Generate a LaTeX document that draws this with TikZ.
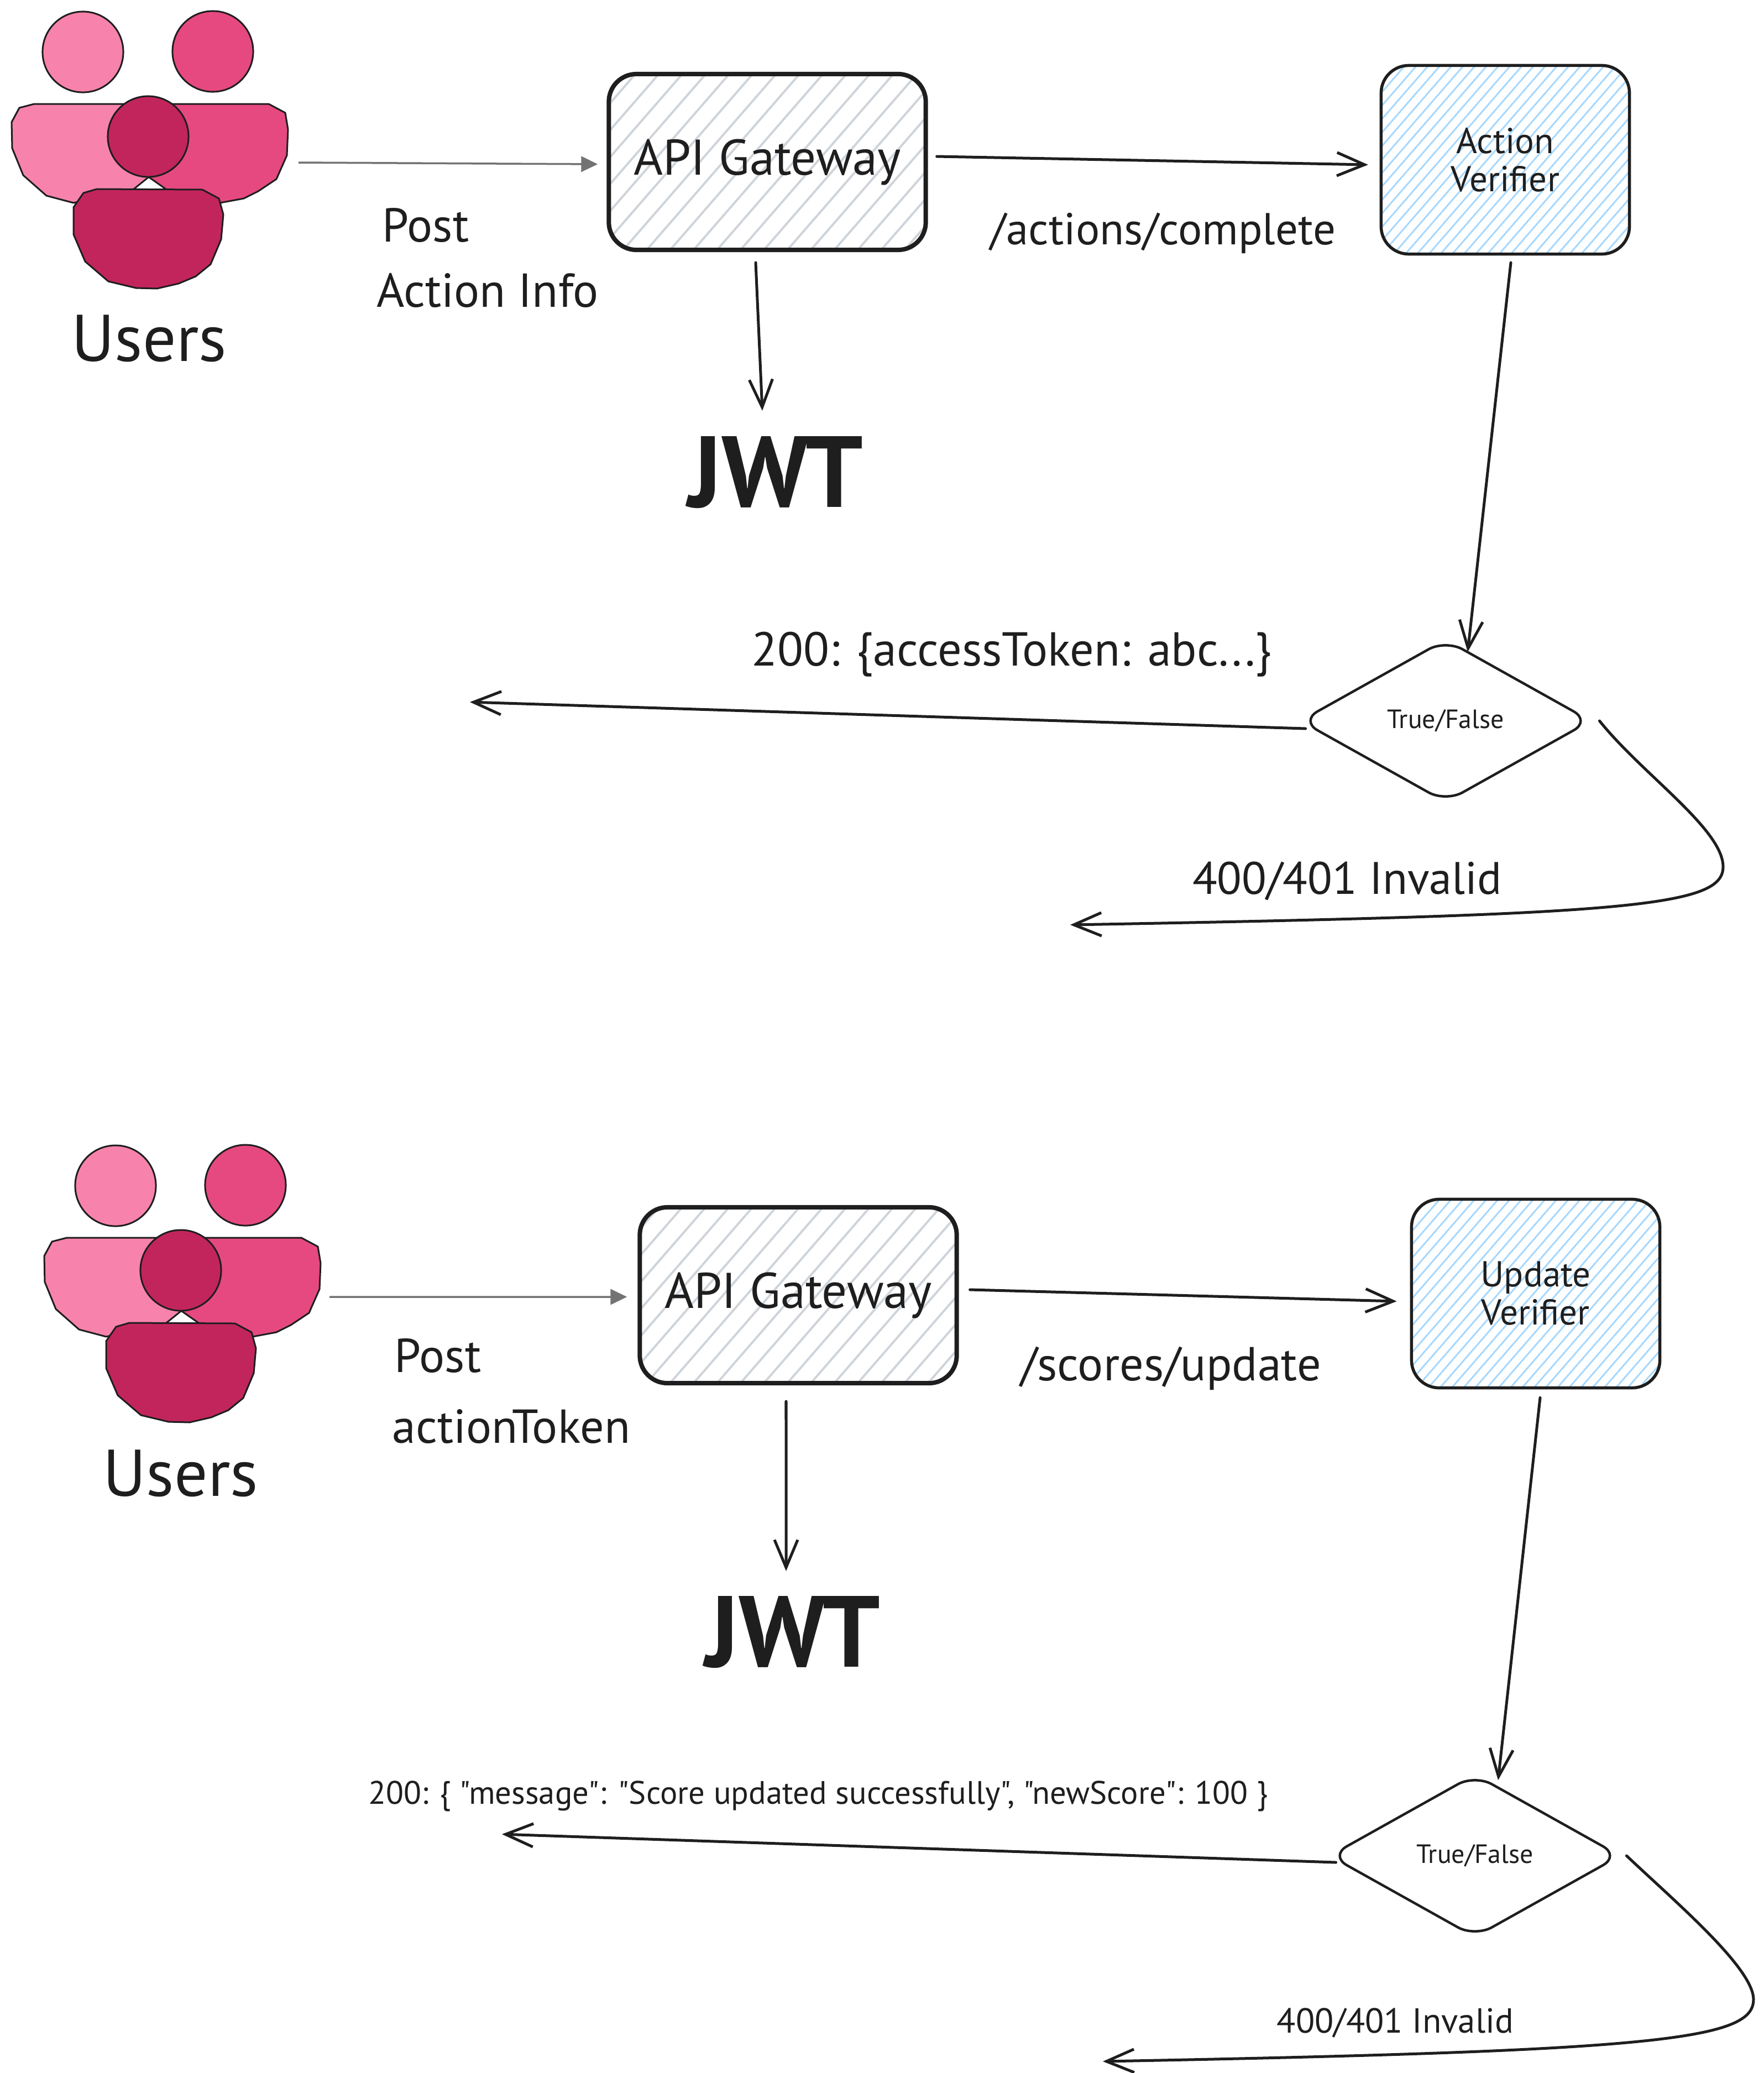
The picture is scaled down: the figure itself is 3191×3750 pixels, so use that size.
\documentclass[tikz,border=0pt]{standalone}
\usepackage{fontspec}
\setmainfont{PT Sans}[Ligatures=TeXOff]
\usetikzlibrary{arrows.meta, shapes.geometric, patterns.meta}
\definecolor{ink}{HTML}{1E1E1E}
\definecolor{pinklight}{HTML}{F783AC}
\definecolor{pinkmid}{HTML}{E64980}
\definecolor{pinkdeep}{HTML}{C2255C}
\definecolor{hatchgray}{HTML}{CED4DA}
\definecolor{hatchblue}{HTML}{A5D8FF}

\begin{document}
\begin{tikzpicture}[
        x=0.01cm,
        y=-0.01cm,
        head/.style={circle, draw=ink, line width=0.03cm, minimum size=1.46cm, inner sep=0pt},
        body/.style={draw=ink, line width=0.03cm, line join=round},
        gateway/.style={rectangle, rounded corners=0.5cm, draw=ink, line width=0.08cm, minimum width=5.73cm, minimum height=3.18cm, pattern={Lines[angle=49, distance=0.32cm, line width=0.04cm]}, pattern color=hatchgray, text=ink, font=\fontsize{25.8}{30}\selectfont},
        verifier/.style={rectangle, rounded corners=0.5cm, draw=ink, line width=0.055cm, minimum width=4.49cm, minimum height=3.41cm, pattern={Lines[angle=49, distance=0.16cm, line width=0.03cm]}, pattern color=hatchblue, text=ink, align=center, font=\fontsize{18.5}{19.6}\selectfont},
        decision/.style={diamond, rounded corners=0.35cm, draw=ink, line width=0.045cm, minimum width=5.26cm, minimum height=2.95cm, aspect=1.78, inner sep=0pt, text=ink, font=\fontsize{13.6}{16}\selectfont},
        usertext/.style={text=ink, font=\fontsize{34}{40}\selectfont},
        jwttext/.style={text=ink, font=\bfseries\fontsize{52}{60}\selectfont},
        msgtext/.style={text=ink, font=\fontsize{24.5}{28}\selectfont},
        message/.style={-{Straight Barb[length=0.5cm, width=0.42cm]}, draw=ink, line width=0.05cm, line cap=round},
        request/.style={-{Triangle[length=0.3cm, width=0.28cm]}, draw=black!55, line width=0.035cm},
    ]
        \useasboundingbox (0,0) rectangle (3191,3750);

        \begin{scope}
            \draw[body, fill=pinklight] (62,188) -- (35,195) -- (21,221) -- (22,268) -- (42,317) -- (84,354) -- (133,367) -- (242,342) -- (268,321) -- (268,188) -- cycle;
            \draw[body, fill=pinkmid] (486,188) -- (516,204) -- (521,234) -- (519,281) -- (500,324) -- (467,346) -- (441,359) -- (398,367) -- (300,342) -- (270,321) -- (268,188) -- cycle;
            \node[head, fill=pinklight] (headleft1) at (150,94) {};
            \node[head, fill=pinkmid] (headright1) at (385,93) {};
            \node[head, fill=pinkdeep] (headfront1) at (268,247) {};
            \draw[body, fill=pinkdeep] (175,342) -- (151,349) -- (133,375) -- (133,424) -- (154,473) -- (196,509) -- (246,521) -- (284,522) -- (323,513) -- (354,500) -- (381,478) -- (400,433) -- (404,388) -- (396,359) -- (366,343) -- cycle;
        \end{scope}
        \node[usertext] (users1) at (270,612) {Users};
        \coordinate (usersout1) at (540,294);

        \node[gateway] (gate1) at (1388,293) {API Gateway};
        \node[verifier] (verify1) at (2723,289) {Action\\Verifier};
        \node[decision] (check1) at (2615,1304) {True/False};
        \node[jwttext] (jwt1) at (1403,855) {JWT};
        \coordinate (badreply1) at (1936,1673);
        \coordinate (okreply1) at (850,1270);

        \draw[request] (usersout1) -- ([xshift=-0.18cm, yshift=-0.04cm]gate1.west);
        \draw[message] ([xshift=0.18cm, yshift=0.1cm]gate1.east) -- ([xshift=-0.22cm, yshift=-0.09cm]verify1.west);
        \draw[message] ([xshift=-0.21cm, yshift=-0.21cm]gate1.south) -- ([xshift=-0.24cm, yshift=1.12cm]jwt1.center);
        \draw[message] ([xshift=0.1cm, yshift=-0.14cm]verify1.south) -- ([xshift=0.4cm, yshift=-0.25cm]check1.north);
        \draw[message] ([xshift=0.12cm, yshift=-0.14cm]check1.west) -- (okreply1);
        \draw[message] ([xshift=0.13cm]check1.east) .. controls (2970,1400) and (3117,1500) .. (3117,1568) .. controls (3117,1640) and (2950,1655) .. (badreply1);

        \node[msgtext] (post1) at (770,408) {Post};
        \node[msgtext] (info1) at (882,525) {Action Info};
        \node[msgtext, font=\fontsize{23}{26}\selectfont] (path1) at (2104,422) {/actions/complete};
        \node[msgtext] (ok1) at (1830,1184) {200: \{accessToken: abc...\}};
        \node[msgtext, font=\fontsize{23.4}{26}\selectfont] (bad1) at (2437,1594) {400/401 Invalid};

        \begin{scope}[shift={(59,2051)}]
            \draw[body, fill=pinklight] (62,188) -- (35,195) -- (21,221) -- (22,268) -- (42,317) -- (84,354) -- (133,367) -- (242,342) -- (268,321) -- (268,188) -- cycle;
            \draw[body, fill=pinkmid] (486,188) -- (516,204) -- (521,234) -- (519,281) -- (500,324) -- (467,346) -- (441,359) -- (398,367) -- (300,342) -- (270,321) -- (268,188) -- cycle;
            \node[head, fill=pinklight] (headleft2) at (150,94) {};
            \node[head, fill=pinkmid] (headright2) at (385,93) {};
            \node[head, fill=pinkdeep] (headfront2) at (268,247) {};
            \draw[body, fill=pinkdeep] (175,342) -- (151,349) -- (133,375) -- (133,424) -- (154,473) -- (196,509) -- (246,521) -- (284,522) -- (323,513) -- (354,500) -- (381,478) -- (400,433) -- (404,388) -- (396,359) -- (366,343) -- cycle;
        \end{scope}
        \node[usertext] (users2) at (327,2665) {Users};
        \coordinate (usersout2) at (596,2346);

        \node[gateway] (gate2) at (1444,2343) {API Gateway};
        \node[verifier] (verify2) at (2778,2340) {Update\\Verifier};
        \node[decision] (check2) at (2668,3357) {True/False};
        \node[jwttext] (jwt2) at (1434,2953) {JWT};
        \coordinate (badreply2) at (1995,3729);
        \coordinate (okreply2) at (908,3318);

        \draw[request] (usersout2) -- ([xshift=-0.19cm, yshift=-0.03cm]gate2.west);
        \draw[message] ([xshift=0.2cm, yshift=0.1cm]gate2.east) -- ([xshift=-0.24cm, yshift=-0.14cm]verify2.west);
        \draw[message] ([xshift=-0.22cm, yshift=-0.29cm]gate2.south) -- ([xshift=-0.12cm, yshift=1.11cm]jwt2.center);
        \draw[message] ([xshift=0.08cm, yshift=-0.15cm]verify2.south) -- ([xshift=0.42cm, yshift=-0.13cm]check2.north);
        \draw[message] ([xshift=0.14cm, yshift=-0.12cm]check2.west) -- (okreply2);
        \draw[message] ([xshift=0.09cm]check2.east) .. controls (3030,3440) and (3172,3560) .. (3172,3617) .. controls (3172,3690) and (3000,3710) .. (badreply2);

        \node[msgtext] (post2) at (792,2452) {Post};
        \node[msgtext] (token2) at (925,2580) {actionToken};
        \node[msgtext] (path2) at (2118,2475) {/scores/update};
        \node[msgtext, font=\fontsize{16.7}{20}\selectfont] (ok2) at (1480,3249) {200: \{ "message": "Score updated successfully", "newScore": 100 \}};
        \node[msgtext, font=\fontsize{17.9}{21}\selectfont] (bad2) at (2524,3659) {400/401 Invalid};
    \end{tikzpicture}
\end{document}
